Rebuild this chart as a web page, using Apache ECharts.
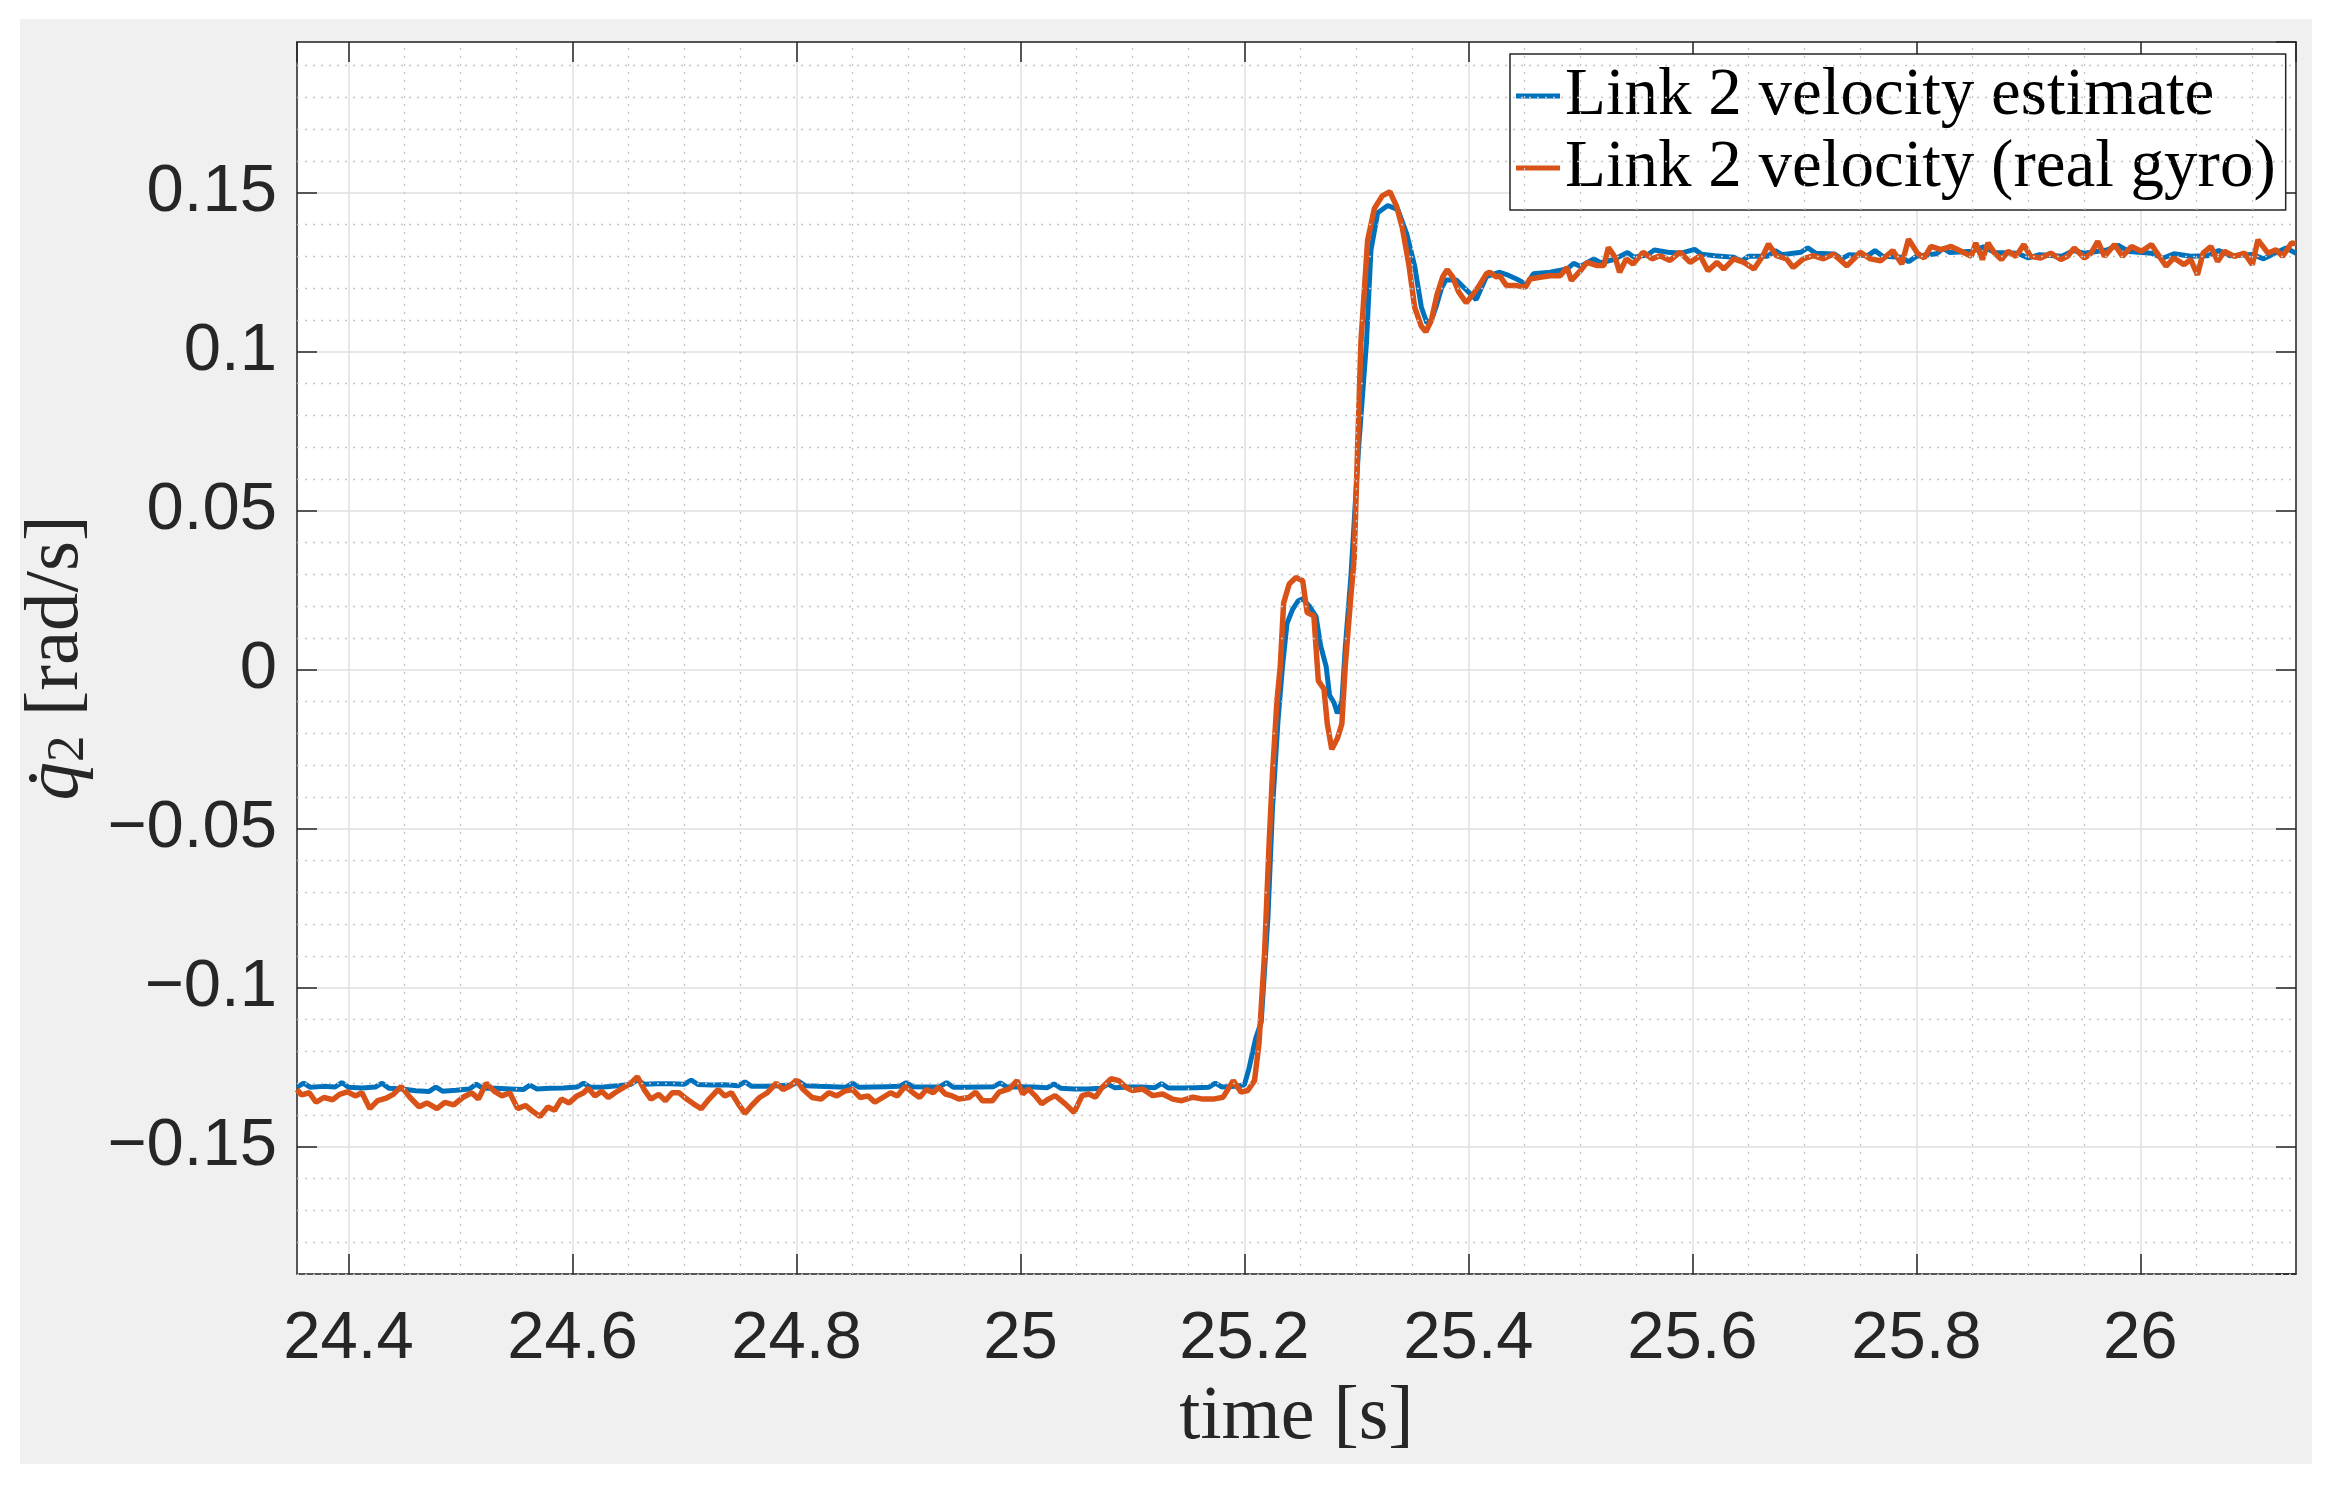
<!DOCTYPE html>
<html>
<head>
<meta charset="utf-8">
<title>Link 2 velocity</title>
<script src="https://cdn.jsdelivr.net/npm/echarts@6/dist/echarts.min.js"></script>
<style>
	html, body { margin: 0; padding: 0; background: #fff; }
	#main-echart { position: absolute; left: 20px; top: 19px; width: 2292px; height: 1445px; }
</style>
</head>
<body>
<div id="main-echart"></div>
<script>
// Link 2 velocity estimate (blue)
const timeEst = [
	24.354, 24.360, 24.366, 24.378, 24.388, 24.394, 24.400, 24.412, 24.424, 24.430,
	24.436, 24.448, 24.460, 24.472, 24.478, 24.484, 24.496, 24.508, 24.514, 24.520,
	24.532, 24.544, 24.556, 24.562, 24.568, 24.580, 24.592, 24.604, 24.610, 24.616,
	24.628, 24.640, 24.652, 24.658, 24.664, 24.676, 24.688, 24.700, 24.706, 24.712,
	24.724, 24.736, 24.748, 24.754, 24.760, 24.772, 24.784, 24.796, 24.802, 24.808,
	24.820, 24.832, 24.844, 24.850, 24.856, 24.868, 24.880, 24.892, 24.898, 24.904,
	24.916, 24.928, 24.934, 24.940, 24.952, 24.964, 24.976, 24.982, 24.988, 25.000,
	25.012, 25.024, 25.030, 25.036, 25.048, 25.060, 25.072, 25.078, 25.084, 25.096,
	25.108, 25.120, 25.126, 25.132, 25.144, 25.156, 25.168, 25.174, 25.180, 25.192,
	25.200, 25.204, 25.210, 25.215, 25.221, 25.225, 25.230, 25.234, 25.238, 25.243,
	25.248, 25.252, 25.258, 25.264, 25.268, 25.273, 25.276, 25.280, 25.283, 25.287,
	25.290, 25.295, 25.302, 25.309, 25.313, 25.319, 25.328, 25.337, 25.345, 25.352,
	25.358, 25.363, 25.367, 25.371, 25.376, 25.380, 25.389, 25.398, 25.407, 25.416,
	25.428, 25.436, 25.443, 25.452, 25.458, 25.473, 25.488, 25.494, 25.500, 25.512,
	25.518, 25.530, 25.542, 25.548, 25.560, 25.566, 25.578, 25.590, 25.602, 25.608,
	25.620, 25.637, 25.644, 25.650, 25.667, 25.674, 25.680, 25.697, 25.703, 25.710,
	25.727, 25.733, 25.740, 25.757, 25.763, 25.770, 25.787, 25.793, 25.800, 25.818,
	25.824, 25.830, 25.850, 25.860, 25.870, 25.890, 25.900, 25.910, 25.930, 25.940,
	25.950, 25.970, 25.980, 25.990, 26.010, 26.020, 26.030, 26.045, 26.060, 26.070,
	26.080, 26.100, 26.110, 26.120, 26.130, 26.139
];
const velEst = [
	-0.1312, -0.1300, -0.1313, -0.1310, -0.1312, -0.1298, -0.1313, -0.1315, -0.1312, -0.1300,
	-0.1316, -0.1318, -0.1324, -0.1326, -0.1312, -0.1325, -0.1322, -0.1318, -0.1303, -0.1316,
	-0.1316, -0.1318, -0.1320, -0.1306, -0.1318, -0.1316, -0.1315, -0.1312, -0.1300, -0.1313,
	-0.1312, -0.1308, -0.1304, -0.1290, -0.1303, -0.1302, -0.1302, -0.1303, -0.1290, -0.1304,
	-0.1306, -0.1305, -0.1308, -0.1296, -0.1310, -0.1310, -0.1308, -0.1306, -0.1294, -0.1308,
	-0.1310, -0.1311, -0.1313, -0.1300, -0.1313, -0.1312, -0.1311, -0.1310, -0.1298, -0.1311,
	-0.1312, -0.1311, -0.1298, -0.1313, -0.1313, -0.1312, -0.1311, -0.1299, -0.1312, -0.1311,
	-0.1312, -0.1314, -0.1302, -0.1316, -0.1318, -0.1318, -0.1316, -0.1303, -0.1314, -0.1312,
	-0.1312, -0.1314, -0.1301, -0.1315, -0.1315, -0.1314, -0.1313, -0.1300, -0.1312, -0.1310,
	-0.1305, -0.1255, -0.1160, -0.1108, -0.0780, -0.0440, -0.0160, 0.0010, 0.0145, 0.0190,
	0.0217, 0.0223, 0.0200, 0.0167, 0.0077, 0.0010, -0.0080, -0.0104, -0.0137, -0.0100,
	0.0067, 0.0290, 0.0700, 0.1030, 0.1320, 0.1437, 0.1460, 0.1447, 0.1370, 0.1270,
	0.1140, 0.1090, 0.1100, 0.1140, 0.1200, 0.1226, 0.1226, 0.1195, 0.1164, 0.1236,
	0.1250, 0.1240, 0.1229, 0.1212, 0.1245, 0.1250, 0.1260, 0.1278, 0.1268, 0.1292,
	0.1280, 0.1290, 0.1312, 0.1297, 0.1305, 0.1320, 0.1313, 0.1310, 0.1322, 0.1307,
	0.1302, 0.1297, 0.1285, 0.1300, 0.1300, 0.1318, 0.1305, 0.1313, 0.1327, 0.1310,
	0.1307, 0.1292, 0.1305, 0.1303, 0.1318, 0.1300, 0.1297, 0.1283, 0.1300, 0.1308,
	0.1325, 0.1312, 0.1316, 0.1330, 0.1312, 0.1310, 0.1295, 0.1305, 0.1300, 0.1318,
	0.1310, 0.1320, 0.1335, 0.1315, 0.1310, 0.1294, 0.1308, 0.1300, 0.1302, 0.1318,
	0.1302, 0.1306, 0.1292, 0.1310, 0.1326, 0.1310
];

// Link 2 velocity from the real gyro (orange)
const timeGyro = [
	24.354, 24.358, 24.365, 24.371, 24.378, 24.386, 24.392, 24.399, 24.406, 24.412,
	24.419, 24.426, 24.433, 24.440, 24.447, 24.455, 24.463, 24.470, 24.479, 24.486,
	24.494, 24.502, 24.510, 24.516, 24.523, 24.530, 24.537, 24.544, 24.551, 24.558,
	24.565, 24.571, 24.578, 24.584, 24.590, 24.597, 24.604, 24.610, 24.614, 24.620,
	24.626, 24.632, 24.638, 24.645, 24.652, 24.658, 24.664, 24.670, 24.677, 24.683,
	24.689, 24.695, 24.702, 24.708, 24.715, 24.722, 24.730, 24.736, 24.742, 24.748,
	24.754, 24.760, 24.767, 24.774, 24.782, 24.788, 24.794, 24.800, 24.806, 24.814,
	24.822, 24.829, 24.836, 24.843, 24.850, 24.857, 24.864, 24.870, 24.877, 24.884,
	24.890, 24.897, 24.904, 24.910, 24.916, 24.922, 24.927, 24.933, 24.939, 24.945,
	24.954, 24.960, 24.966, 24.975, 24.981, 24.990, 24.997, 25.002, 25.007, 25.013,
	25.019, 25.025, 25.031, 25.040, 25.048, 25.055, 25.061, 25.067, 25.073, 25.081,
	25.088, 25.094, 25.100, 25.109, 25.118, 25.127, 25.136, 25.144, 25.154, 25.163,
	25.172, 25.181, 25.190, 25.197, 25.203, 25.209, 25.213, 25.218, 25.222, 25.225,
	25.229, 25.232, 25.235, 25.240, 25.246, 25.252, 25.256, 25.262, 25.266, 25.271,
	25.274, 25.278, 25.283, 25.287, 25.290, 25.295, 25.298, 25.304, 25.310, 25.316,
	25.323, 25.330, 25.336, 25.341, 25.347, 25.352, 25.358, 25.362, 25.367, 25.372,
	25.377, 25.381, 25.386, 25.391, 25.398, 25.404, 25.410, 25.416, 25.419, 25.425,
	25.428, 25.434, 25.443, 25.451, 25.455, 25.464, 25.473, 25.482, 25.488, 25.492,
	25.500, 25.506, 25.515, 25.521, 25.525, 25.531, 25.535, 25.541, 25.547, 25.556,
	25.564, 25.571, 25.580, 25.589, 25.598, 25.607, 25.614, 25.622, 25.628, 25.637,
	25.646, 25.655, 25.663, 25.668, 25.675, 25.684, 25.690, 25.699, 25.708, 25.717,
	25.726, 25.738, 25.750, 25.759, 25.768, 25.779, 25.787, 25.793, 25.801, 25.807,
	25.813, 25.822, 25.831, 25.840, 25.849, 25.853, 25.859, 25.864, 25.870, 25.876,
	25.882, 25.889, 25.896, 25.902, 25.911, 25.920, 25.929, 25.935, 25.941, 25.950,
	25.956, 25.962, 25.968, 25.977, 25.984, 25.992, 26.001, 26.010, 26.015, 26.023,
	26.030, 26.039, 26.045, 26.051, 26.056, 26.063, 26.069, 26.075, 26.084, 26.093,
	26.100, 26.105, 26.114, 26.121, 26.127, 26.135, 26.139
];
const velGyro = [
	-0.1320, -0.1337, -0.1330, -0.1360, -0.1345, -0.1352, -0.1335, -0.1327, -0.1340, -0.1330,
	-0.1380, -0.1355, -0.1348, -0.1335, -0.1310, -0.1345, -0.1374, -0.1362, -0.1380, -0.1360,
	-0.1368, -0.1345, -0.1330, -0.1350, -0.1300, -0.1325, -0.1340, -0.1330, -0.1380, -0.1370,
	-0.1390, -0.1405, -0.1375, -0.1385, -0.1350, -0.1362, -0.1340, -0.1330, -0.1316, -0.1340,
	-0.1325, -0.1345, -0.1330, -0.1315, -0.1300, -0.1280, -0.1320, -0.1350, -0.1335, -0.1355,
	-0.1330, -0.1330, -0.1350, -0.1365, -0.1380, -0.1350, -0.1320, -0.1340, -0.1330, -0.1365,
	-0.1395, -0.1370, -0.1345, -0.1330, -0.1300, -0.1320, -0.1310, -0.1290, -0.1320, -0.1345,
	-0.1350, -0.1330, -0.1340, -0.1325, -0.1320, -0.1345, -0.1340, -0.1360, -0.1345, -0.1330,
	-0.1340, -0.1310, -0.1330, -0.1345, -0.1320, -0.1330, -0.1313, -0.1334, -0.1340, -0.1350,
	-0.1345, -0.1328, -0.1355, -0.1355, -0.1328, -0.1318, -0.1292, -0.1334, -0.1318, -0.1339,
	-0.1365, -0.1350, -0.1339, -0.1365, -0.1392, -0.1339, -0.1334, -0.1344, -0.1313, -0.1286,
	-0.1292, -0.1313, -0.1323, -0.1318, -0.1339, -0.1334, -0.1350, -0.1355, -0.1344, -0.1350,
	-0.1350, -0.1344, -0.1292, -0.1328, -0.1323, -0.1292, -0.1176, -0.0890, -0.0550, -0.0330,
	-0.0100, 0.0010, 0.0210, 0.0270, 0.0290, 0.0280, 0.0180, 0.0170, -0.0035, -0.0060,
	-0.0170, -0.0250, -0.0216, -0.0170, 0.0010, 0.0230, 0.0350, 0.1030, 0.1350, 0.1450,
	0.1490, 0.1503, 0.1456, 0.1390, 0.1270, 0.1140, 0.1080, 0.1063, 0.1100, 0.1180,
	0.1235, 0.1258, 0.1235, 0.1190, 0.1154, 0.1180, 0.1210, 0.1245, 0.1250, 0.1235,
	0.1239, 0.1208, 0.1208, 0.1203, 0.1229, 0.1234, 0.1239, 0.1239, 0.1265, 0.1224,
	0.1255, 0.1281, 0.1271, 0.1271, 0.1328, 0.1297, 0.1250, 0.1292, 0.1276, 0.1313,
	0.1292, 0.1302, 0.1287, 0.1313, 0.1281, 0.1302, 0.1255, 0.1281, 0.1260, 0.1292,
	0.1281, 0.1260, 0.1302, 0.1339, 0.1302, 0.1292, 0.1265, 0.1292, 0.1302, 0.1292,
	0.1307, 0.1270, 0.1313, 0.1292, 0.1286, 0.1318, 0.1276, 0.1354, 0.1310, 0.1295,
	0.1331, 0.1321, 0.1331, 0.1316, 0.1300, 0.1342, 0.1290, 0.1342, 0.1310, 0.1290,
	0.1316, 0.1300, 0.1337, 0.1300, 0.1295, 0.1310, 0.1290, 0.1300, 0.1326, 0.1295,
	0.1310, 0.1347, 0.1300, 0.1337, 0.1300, 0.1331, 0.1316, 0.1337, 0.1310, 0.1269,
	0.1295, 0.1274, 0.1290, 0.1242, 0.1310, 0.1331, 0.1284, 0.1316, 0.1300, 0.1310,
	0.1274, 0.1352, 0.1310, 0.1321, 0.1300, 0.1342, 0.1340
];

const seriesNames = ['Link 2 velocity estimate', 'Link 2 velocity (real gyro)'];
const xLimits = [24.354, 26.139];
const yLimits = [-0.19, 0.1974];

try {
	let myChart = echarts.init(document.getElementById('main-echart'));
	let option;

	const ink = '#262626';
	const tickFont = 'Helvetica, "Liberation Sans", Arial, sans-serif';
	const texFont = '"Liberation Serif", "Times New Roman", serif';
	const minus = (v) => String(v).replace('-', '\u2212');

	// minor grid like MATLAB (0.05 s and 0.01 rad/s), skipping the major lines
	const minorLines = [];
	for (let k = Math.ceil(xLimits[0] / 0.05); k * 0.05 < xLimits[1]; k++) {
		if (k % 4 !== 0) minorLines.push({ xAxis: +(k * 0.05).toFixed(3) });
	}
	for (let k = Math.ceil(yLimits[0] / 0.01 - 1e-9); k * 0.01 < yLimits[1]; k++) {
		if (k % 5 !== 0) minorLines.push({ yAxis: +(k * 0.01).toFixed(3) });
	}

	const boxAxis = {
		type: 'value',
		min: xLimits[0],
		max: xLimits[1],
		axisLine: { show: true, onZero: false, lineStyle: { color: ink, width: 1.5 } },
		axisTick: { show: true, inside: true, length: 20, lineStyle: { color: ink, width: 1.5 } },
		axisLabel: { show: false },
		splitLine: { show: false }
	};

	option = {
		backgroundColor: '#f0f0f0',
		animation: false,
		grid: {
			left: 277, top: 23, right: 16, bottom: 190,
			outerBoundsMode: 'none',
			show: true, backgroundColor: '#ffffff', borderWidth: 0
		},
		legend: {
			orient: 'vertical',
			left: 1490,
			top: 35,
			padding: [6, 10, 6, 6],
			itemGap: 0,
			itemWidth: 44,
			itemHeight: 5,
			icon: 'rect',
			backgroundColor: '#ffffff',
			borderColor: ink,
			borderWidth: 1.5,
			borderRadius: 0,
			textStyle: { fontFamily: texFont, fontSize: 67, lineHeight: 72, color: '#000' },
			data: seriesNames
		},
		xAxis: [
			Object.assign({}, boxAxis, {
				position: 'bottom',
				splitNumber: 9,
				name: 'time [s]',
				nameLocation: 'middle',
				nameGap: 106,
				nameTextStyle: { fontFamily: texFont, fontSize: 76, color: ink },
				axisLabel: {
					show: true, margin: 32, showMinLabel: false, showMaxLabel: false,
					fontFamily: tickFont, fontSize: 67, color: ink, formatter: minus
				},
				splitLine: { show: true, lineStyle: { color: '#dfdfdf', width: 1.5 } }
			}),
			Object.assign({}, boxAxis, { position: 'top', splitNumber: 9 })
		],
		yAxis: [
			Object.assign({}, boxAxis, {
				min: yLimits[0],
				max: yLimits[1],
				position: 'left',
				splitNumber: 8,
				name: '{q|q\u0307}{s|2} [rad/s]',
				nameLocation: 'middle',
				nameRotate: 90,
				nameGap: 201,
				nameTextStyle: {
					fontFamily: texFont, fontSize: 77, color: ink,
					rich: {
						q: { fontFamily: texFont, fontSize: 77, fontStyle: 'italic', color: ink },
						s: { fontFamily: texFont, fontSize: 53, color: ink, padding: [26, 0, 0, 0] }
					}
				},
				axisLabel: {
					show: true, margin: 20, showMinLabel: false, showMaxLabel: false,
					fontFamily: tickFont, fontSize: 67, color: ink, formatter: minus
				},
				splitLine: { show: true, lineStyle: { color: '#dfdfdf', width: 1.5 } }
			}),
			Object.assign({}, boxAxis, { min: yLimits[0], max: yLimits[1], position: 'right', splitNumber: 8 })
		],
		series: [
			{
				type: 'line',
				data: [],
				z: 1,
				silent: true,
				markLine: {
					silent: true,
					symbol: 'none',
					label: { show: false },
					animation: false,
					lineStyle: { type: [2, 6], color: '#c4c4c4', width: 1.3 },
					data: minorLines
				}
			},
			{
				name: seriesNames[0],
				type: 'line',
				z: 3,
				showSymbol: false,
				color: '#0072BD',
				lineStyle: { width: 5 },
				data: timeEst.map((t, i) => [t, velEst[i]])
			},
			{
				name: seriesNames[1],
				type: 'line',
				z: 4,
				showSymbol: false,
				color: '#D95319',
				lineStyle: { width: 5.5 },
				data: timeGyro.map((t, i) => [t, velGyro[i]])
			}
		]
	};

	myChart.setOption(option);
} catch (e) {
	console.log(e);
}
</script>
</body>
</html>
